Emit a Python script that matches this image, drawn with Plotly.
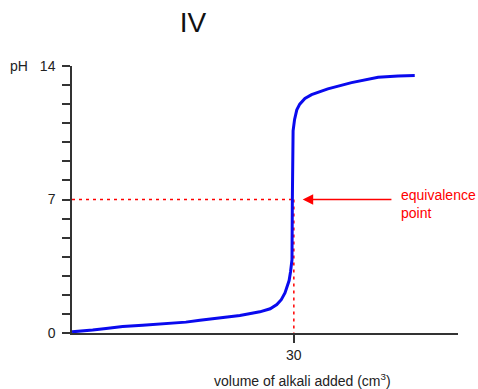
import plotly.graph_objects as go

# Titration curve data (volume of alkali in cm3, pH)
volume = [0, 1.0, 2.8, 4.6, 6.85, 9.55, 11.8, 14.05, 15.4, 17.3, 20.0, 22.7,
          25.4, 26.8, 27.7, 28.3, 28.8, 29.1, 29.36, 29.55, 29.75, 29.8, 29.82,
          29.9, 30.1, 30.4, 30.8, 31.5, 32.4, 34.6, 37.8, 41.4, 44.1, 46.35]
ph = [0.06, 0.09, 0.16, 0.24, 0.34, 0.41, 0.48, 0.53, 0.57, 0.67, 0.80, 0.92,
      1.11, 1.27, 1.49, 1.75, 2.10, 2.45, 2.75, 3.2, 3.85, 7.0, 10.0,
      10.6, 11.2, 11.7, 12.0, 12.3, 12.5, 12.8, 13.13, 13.41, 13.48, 13.5]

eq_volume = 30
eq_ph = 7

y_tick_vals = [0, 7, 14]
y_tick_text = ["0", "7", "14"]
x_tick_vals = [30]
x_tick_text = ["30"]

fig = go.Figure()

# Dashed guide lines to the equivalence point
fig.add_trace(go.Scatter(x=[0, eq_volume], y=[eq_ph, eq_ph], mode="lines",
                         line=dict(color="#ff0000", width=1.5, dash="3px,4px"),
                         hoverinfo="skip", showlegend=False))
fig.add_trace(go.Scatter(x=[eq_volume, eq_volume], y=[eq_ph, 0], mode="lines",
                         line=dict(color="#ff0000", width=1.5, dash="3px,4px"),
                         hoverinfo="skip", showlegend=False))

fig.add_trace(go.Scatter(x=volume, y=ph, mode="lines",
                         line=dict(color="#0a0aee", width=3),
                         cliponaxis=False, showlegend=False))

axis_color = "#333333"
fig.update_layout(
    width=478, height=389,
    margin=dict(l=72, r=20, t=66, b=55.5),
    paper_bgcolor="white", plot_bgcolor="white",
    font=dict(family="Liberation Sans, Arial, sans-serif", size=14, color="#222222"),
    showlegend=False,
    title=dict(text="IV", x=193/478, xanchor="center", y=1-22/389, yanchor="middle",
               font=dict(size=28, color="#111111")),
    xaxis=dict(range=[0, 52.2], showgrid=False, zeroline=False,
               showline=True, linecolor=axis_color, linewidth=1.5,
               tickvals=x_tick_vals, ticktext=x_tick_text,
               tickfont=dict(size=14),
               ticks="outside", ticklen=8, tickcolor=axis_color, tickwidth=1.5),
    yaxis=dict(range=[0, 14], showgrid=False, zeroline=False,
               showline=True, linecolor=axis_color, linewidth=1.5,
               tickvals=y_tick_vals, ticktext=y_tick_text,
               tickfont=dict(size=14), ticklabelstandoff=4,
               ticks="outside", ticklen=8, tickcolor=axis_color, tickwidth=1.5,
               minor=dict(dtick=1, tick0=0, ticks="outside", ticklen=8,
                          tickcolor=axis_color, tickwidth=1.5, showgrid=False)),
)

# Arrow pointing to the equivalence point
fig.add_annotation(x=31.2, y=eq_ph, ax=43.4, ay=eq_ph, xref="x", yref="y",
                   axref="x", ayref="y", text="", showarrow=True,
                   arrowhead=2, arrowsize=1.4, arrowwidth=1.5, arrowcolor="#ff0000")
fig.add_annotation(x=44.2, y=6.75, xref="x", yref="y", text="equivalence<br>point",
                   showarrow=False, xanchor="left", yanchor="middle", align="left",
                   font=dict(size=14, color="#ff0000"))

# pH label at top left
fig.add_annotation(x=-42/386, y=1.0, xref="paper", yref="paper", text="pH",
                   showarrow=False, xanchor="right", yanchor="middle",
                   font=dict(size=14, color="#222222"))

# x axis label
fig.add_annotation(x=(302-72)/386, y=-47.5/267.5, xref="paper", yref="paper",
                   text="volume of alkali added (cm<sup>3</sup>)", showarrow=False,
                   xanchor="center", yanchor="middle",
                   font=dict(size=14, color="#222222"))

fig.write_html("out.html")
